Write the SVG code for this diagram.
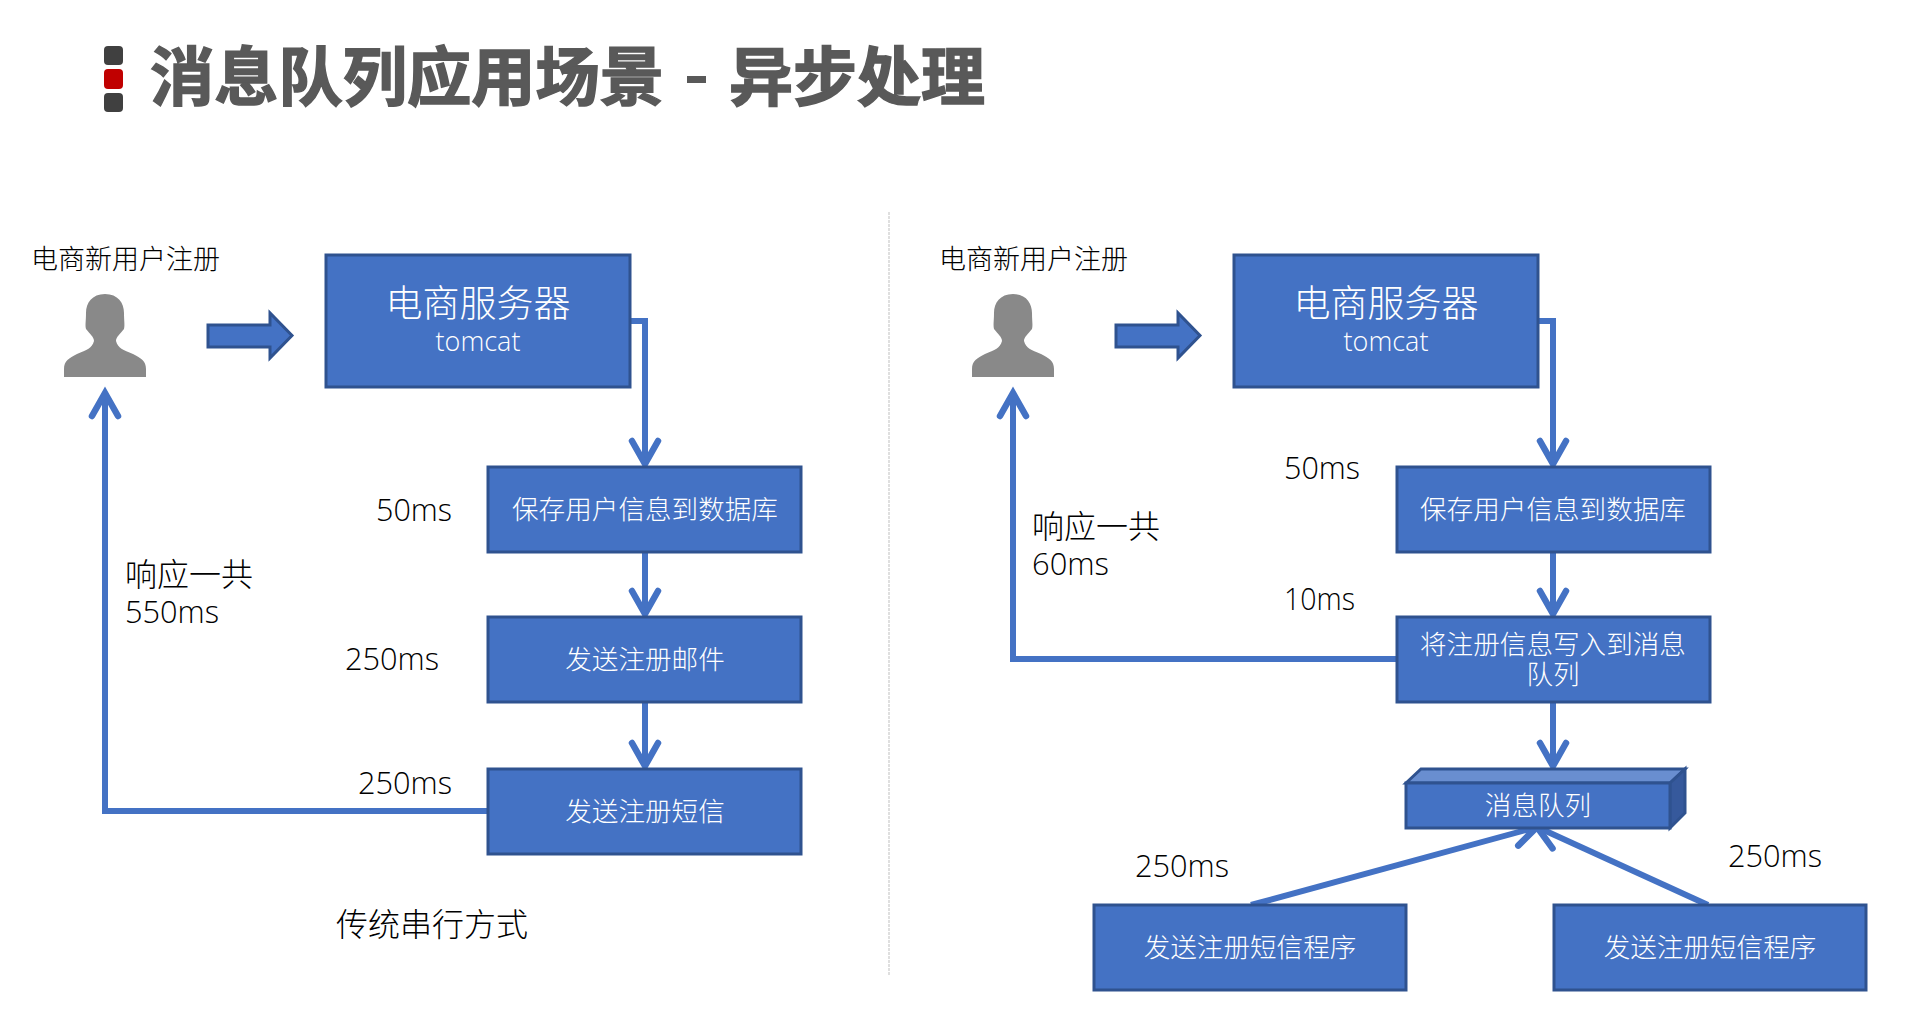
<svg xmlns="http://www.w3.org/2000/svg" width="1920" height="1032" viewBox="0 0 1920 1032">
<style>
text{font-family:"Open Sans","Noto Sans CJK SC","Noto Sans",sans-serif;font-weight:300}
.box{fill:#4472c4;stroke:#2f528f;stroke-width:3}
.w{fill:#fff;text-anchor:middle}
.k{fill:#000;font-size:32px}
.u{fill:#000;font-size:27px}
.c{fill:none;stroke:#4472c4;stroke-width:6}
.b{font-size:26.6px}
.t{font-size:37px}
.s{font-size:27px}
.ti{font-family:"Noto Sans CJK SC","Noto Sans",sans-serif;font-weight:700;font-size:64px;fill:#595959;stroke:#595959;stroke-width:1.5}
</style>
<defs>
<marker id="a" markerUnits="userSpaceOnUse" markerWidth="40" markerHeight="40" refX="32" refY="20" orient="auto"><path d="M9 7L32 20L9 33" fill="none" stroke="#4472c4" stroke-width="6.5" stroke-linecap="round"/></marker>
<path id="person" d="M-41 72V64C-41 56-36 53-28 49C-18 45-13 43-11 36C-11 32-15 29-19 24C-20 20-19 16-19 8C-19-2-13-11 0-11C13-11 19-2 19 8C19 16 20 20 19 24C15 29 11 32 11 36C13 43 18 45 28 49C36 53 41 56 41 64V72Z" fill="#898989"/>
<path id="block" d="M0 12H62V0L84 22.5L62 45V34H0Z" fill="#4472c4" stroke="#2f528f" stroke-width="3"/>
</defs>
<rect width="1920" height="1032" fill="#fff"/>
<g id="title">
<rect x="104" y="46" width="19" height="19" rx="4" fill="#404040"/>
<rect x="104" y="69" width="19" height="20" rx="4" fill="#c00000"/>
<rect x="104" y="93" width="19" height="19" rx="4" fill="#404040"/>
<text class="ti" x="150" y="100" textLength="514" lengthAdjust="spacingAndGlyphs">消息队列应用场景</text>
<rect x="687" y="76" width="19" height="7" fill="#595959"/>
<text class="ti" x="729" y="100" textLength="256" lengthAdjust="spacingAndGlyphs">异步处理</text>
</g>
<line id="divider" x1="889" y1="212" x2="889" y2="975" stroke="#bfbfbf" stroke-width="1" stroke-dasharray="3 1"/>
<g id="connectors">
<path class="c" d="M630 321H645V464" marker-end="url(#a)"/>
<path class="c" d="M645 552V614" marker-end="url(#a)"/>
<path class="c" d="M645 702V766" marker-end="url(#a)"/>
<path class="c" d="M488 811H105V393" marker-end="url(#a)"/>
<path class="c" d="M1538 321H1553V464" marker-end="url(#a)"/>
<path class="c" d="M1553 552V614" marker-end="url(#a)"/>
<path class="c" d="M1553 702V766" marker-end="url(#a)"/>
<path class="c" d="M1397 659H1013V393" marker-end="url(#a)"/>
<path class="c" d="M1251 905L1537 827" marker-end="url(#a)"/>
<path class="c" d="M1708 905L1537 827" marker-end="url(#a)"/>
</g>
<g id="user-left">
<text class="u" x="31" y="269">电商新用户注册</text>
<use href="#person" x="105" y="305"/>
</g>
<use id="arrow-left" href="#block" x="208" y="313"/>
<g id="server-left"><rect class="box" x="326" y="255" width="304" height="132"/><text class="w t" x="478" y="317">电商服务器<tspan class="s" x="478" dy="34">tomcat</tspan></text></g>
<g id="save-left"><rect class="box" x="488" y="467" width="313" height="85"/><text class="w b" x="645" y="519">保存用户信息到数据库</text></g>
<g id="mail-left"><rect class="box" x="488" y="617" width="313" height="85"/><text class="w b" x="645" y="669">发送注册邮件</text></g>
<g id="sms-left"><rect class="box" x="488" y="769" width="313" height="85"/><text class="w b" x="645" y="821">发送注册短信</text></g>
<g id="labels-left">
<text class="k" x="376" y="521" textLength="76" lengthAdjust="spacingAndGlyphs">50ms</text>
<text class="k" x="345" y="670" textLength="94" lengthAdjust="spacingAndGlyphs">250ms</text>
<text class="k" x="358" y="794" textLength="94" lengthAdjust="spacingAndGlyphs">250ms</text>
<text class="k" x="125" y="586">响应一共<tspan x="125" dy="37" textLength="94" lengthAdjust="spacingAndGlyphs">550ms</tspan></text>
<text class="k" x="336" y="936">传统串行方式</text>
</g>
<g id="user-right">
<text class="u" x="939" y="269">电商新用户注册</text>
<use href="#person" x="1013" y="305"/>
</g>
<use id="arrow-right" href="#block" x="1116" y="313"/>
<g id="server-right"><rect class="box" x="1234" y="255" width="304" height="132"/><text class="w t" x="1386" y="317">电商服务器<tspan class="s" x="1386" dy="34">tomcat</tspan></text></g>
<g id="save-right"><rect class="box" x="1397" y="467" width="313" height="85"/><text class="w b" x="1553" y="519">保存用户信息到数据库</text></g>
<g id="write-right"><rect class="box" x="1397" y="617" width="313" height="85"/><text class="w b" x="1553" y="654">将注册信息写入到消息<tspan x="1553" dy="30">队列</tspan></text></g>
<g id="queue">
<path d="M1406 783L1421 769H1685L1670 783Z" fill="#698ed0" stroke="#2f528f" stroke-width="3"/>
<path d="M1670 783L1685 769V813L1670 828Z" fill="#36599c" stroke="#2f528f" stroke-width="3"/>
<rect class="box" x="1406" y="783" width="264" height="45"/>
<text class="w b" x="1538" y="815">消息队列</text>
</g>
<g id="sms1"><rect class="box" x="1094" y="905" width="312" height="85"/><text class="w b" x="1250" y="957">发送注册短信程序</text></g>
<g id="sms2"><rect class="box" x="1554" y="905" width="312" height="85"/><text class="w b" x="1710" y="957">发送注册短信程序</text></g>
<g id="labels-right">
<text class="k" x="1284" y="479" textLength="76" lengthAdjust="spacingAndGlyphs">50ms</text>
<text class="k" x="1284" y="610" textLength="71" lengthAdjust="spacingAndGlyphs">10ms</text>
<text class="k" x="1032" y="538">响应一共<tspan x="1032" dy="37" textLength="77" lengthAdjust="spacingAndGlyphs">60ms</tspan></text>
<text class="k" x="1135" y="877" textLength="94" lengthAdjust="spacingAndGlyphs">250ms</text>
<text class="k" x="1728" y="867" textLength="94" lengthAdjust="spacingAndGlyphs">250ms</text>
</g>
</svg>
